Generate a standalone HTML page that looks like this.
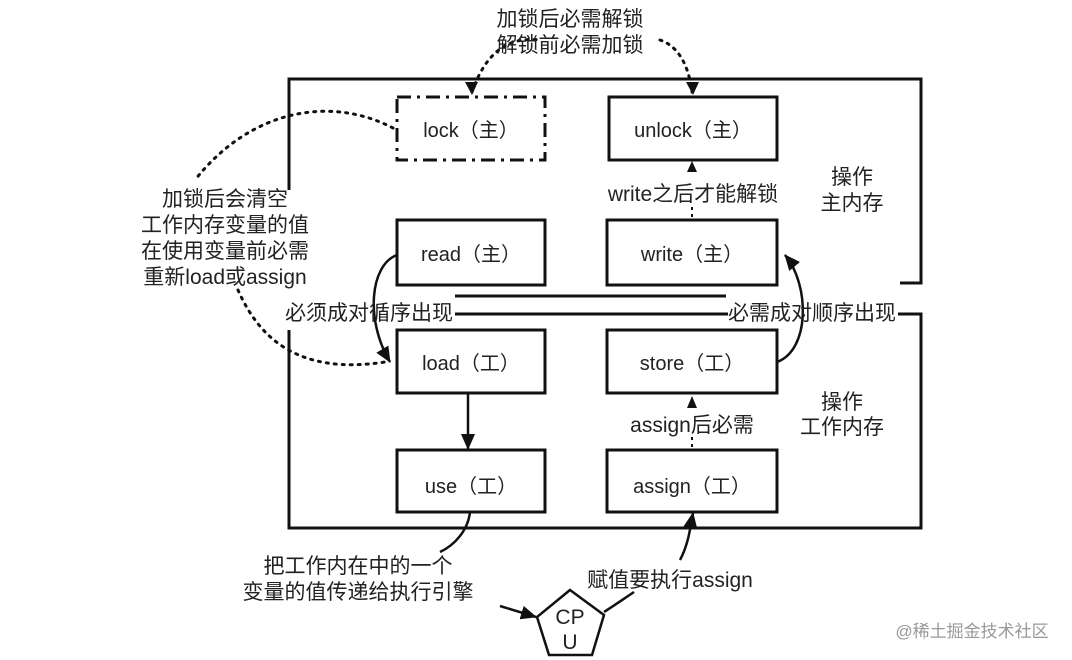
<!DOCTYPE html>
<html><head><meta charset="utf-8"><style>
html,body{margin:0;padding:0;background:#fff;}
svg{display:block;}
text{font-family:"Liberation Sans","Noto Sans CJK SC",sans-serif;fill:#222;}
</style></head><body>
<svg width="1072" height="660" viewBox="0 0 1072 660" xmlns="http://www.w3.org/2000/svg">
<defs>
<marker id="ab" markerWidth="16" markerHeight="14" refX="15" refY="7" orient="auto" markerUnits="userSpaceOnUse"><path d="M0,0 L16,7 L0,14 z" fill="#111"/></marker>
</defs>
<g fill="none" stroke="#111" stroke-width="3">
<path d="M289,190 L289,79 L921,79 L921,283 L900,283"/>
<line x1="455" y1="296" x2="726" y2="296"/>
<path d="M455,314 L728,314"/>
<path d="M898,314 L921,314 L921,528 L289,528 L289,330"/>
<rect x="397" y="97" width="148" height="63" stroke-dasharray="14,6,3,6"/>
<rect x="609" y="97" width="168" height="63"/>
<rect x="397" y="220" width="148" height="65"/>
<rect x="607" y="220" width="170" height="65"/>
<rect x="397" y="330" width="148" height="63"/>
<rect x="607" y="330" width="170" height="63"/>
<rect x="397" y="450" width="148" height="62"/>
<rect x="607" y="450" width="170" height="62"/>
<polygon points="570,590 604,615 592,655 549,655 537,617" stroke-width="2.5"/>
</g>
<g fill="none" stroke="#111" stroke-width="2.5">
<path d="M397,255 C370,265 365,320 390,362" marker-end="url(#ab)"/>
<path d="M777,362 C810,350 810,285 785,255" marker-end="url(#ab)"/>
<line x1="468" y1="393" x2="468" y2="449" marker-end="url(#ab)"/>
<path d="M470,512 C468,530 455,545 440,552"/>
<path d="M500,606 L536,617" marker-end="url(#ab)"/>
<path d="M604,612 C615,605 625,598 634,592"/>
<path d="M680,560 C688,545 690,530 693,513" marker-end="url(#ab)"/>
</g>
<g fill="none" stroke="#111" stroke-width="3" stroke-dasharray="2,6" stroke-linecap="round">
<path d="M472,92 C490,40 520,38 540,40"/>
<path d="M660,40 C675,45 688,60 692,92"/>
<path d="M393,128 C330,95 250,110 195,180"/>
<path d="M238,290 C260,340 300,375 385,362"/>
</g>
<path d="M465,82 L478,82 L472,95 z" fill="#111"/>
<path d="M686,82 L699,82 L693,95 z" fill="#111"/>
<g stroke="#111" stroke-width="2" stroke-dasharray="3,4">
<line x1="692" y1="207" x2="692" y2="219"/>
<line x1="692" y1="437" x2="692" y2="449"/>
</g>
<path d="M687,172 L697,172 L692,161 z" fill="#111"/>
<path d="M687,408 L697,408 L692,396 z" fill="#111"/>
<g font-size="20" text-anchor="middle">
<text x="471" y="137">lock（主）</text>
<text x="693" y="137">unlock（主）</text>
<text x="471" y="261">read（主）</text>
<text x="692" y="261">write（主）</text>
<text x="471" y="370">load（工）</text>
<text x="692" y="370">store（工）</text>
<text x="471" y="493">use（工）</text>
<text x="692" y="493">assign（工）</text>
</g>
<g font-size="21" text-anchor="middle">
<text x="570" y="26">加锁后必需解锁</text>
<text x="570" y="52">解锁前必需加锁</text>
<text x="693" y="201">write之后才能解锁</text>
<text x="692" y="432">assign后必需</text>
<text x="852" y="184">操作</text>
<text x="852" y="210">主内存</text>
<text x="842" y="409">操作</text>
<text x="842" y="434">工作内存</text>
<text x="225" y="206">加锁后会清空</text>
<text x="225" y="232">工作内存变量的值</text>
<text x="225" y="258">在使用变量前必需</text>
<text x="225" y="284">重新load或assign</text>
<text x="369" y="320">必须成对循序出现</text>
<text x="812" y="320">必需成对顺序出现</text>
<text x="358" y="573">把工作内在中的一个</text>
<text x="358" y="599">变量的值传递给执行引擎</text>
<text x="670" y="587">赋值要执行assign</text>
<text x="570" y="624">CP</text>
<text x="570" y="649">U</text>
</g>
<text x="972" y="637" font-size="17" text-anchor="middle" style="fill:#999">@稀土掘金技术社区</text>
</svg>
</body></html>
